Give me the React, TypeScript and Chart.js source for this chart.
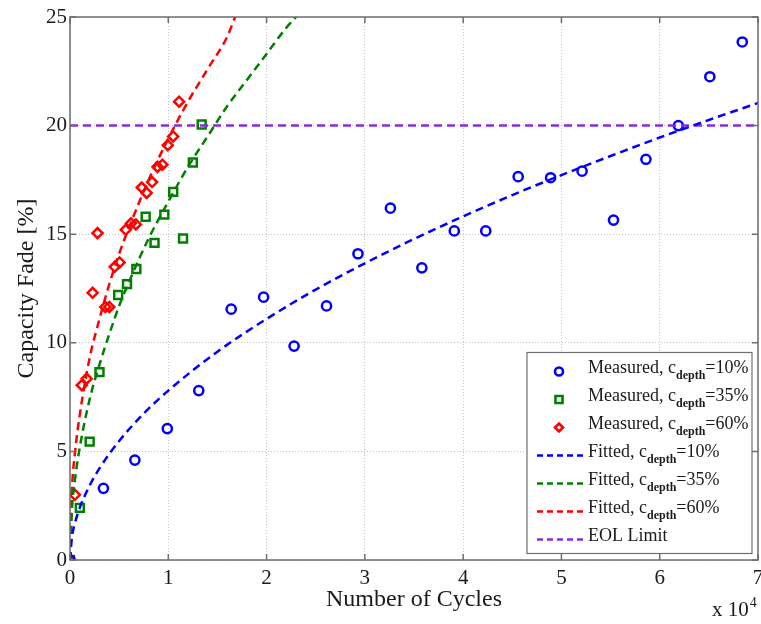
import React, { useEffect, useRef } from 'react';
import { Chart, registerables } from 'chart.js';

Chart.register(...registerables);

// ---------- data (x in units of 10^4 cycles, y in % capacity fade) ----------
const X_TICKS = [0, 1, 2, 3, 4, 5, 6, 7];
const Y_TICKS = [0, 5, 10, 15, 20, 25];

const meas10X = [0, 0.34, 0.66, 0.99, 1.31, 1.64, 1.97, 2.28, 2.61, 2.93, 3.26, 3.58, 3.91, 4.23, 4.56, 4.89, 5.21, 5.53, 5.86, 6.19, 6.51, 6.84];
const meas10Y = [0, 3.3, 4.6, 6.05, 7.8, 11.55, 12.1, 9.85, 11.7, 14.1, 16.2, 13.45, 15.15, 15.15, 17.65, 17.6, 17.9, 15.65, 18.45, 20.0, 22.25, 23.85];

const meas35X = [0, 0.1, 0.2, 0.3, 0.49, 0.58, 0.675, 0.77, 0.86, 0.96, 1.05, 1.15, 1.25, 1.34];
const meas35Y = [0, 2.4, 5.45, 8.65, 12.2, 12.7, 13.4, 15.8, 14.6, 15.9, 16.95, 14.8, 18.3, 20.05];

const meas60X = [0, 0.05, 0.12, 0.17, 0.23, 0.28, 0.36, 0.4, 0.455, 0.505, 0.567, 0.62, 0.67, 0.73, 0.78, 0.835, 0.89, 0.94, 0.995, 1.05, 1.11];
const meas60Y = [0, 3.0, 8.05, 8.35, 12.3, 15.05, 11.65, 11.65, 13.5, 13.7, 15.2, 15.5, 15.45, 17.15, 16.9, 17.4, 18.1, 18.2, 19.1, 19.5, 21.1];

const fit10X = [0, 0.02, 0.05, 0.1, 0.2, 0.3, 0.5, 0.75, 1, 1.5, 2, 2.5, 3, 3.5, 4, 4.5, 5, 5.5, 6, 6.5, 7];
const fit10Y = [0, 1.06, 1.69, 2.41, 3.43, 4.22, 5.48, 6.74, 7.8, 9.59, 11.1, 12.45, 13.66, 14.78, 15.82, 16.8, 17.72, 18.6, 19.45, 20.26, 21.04];

const fit35X = [0, 0.02, 0.05, 0.1, 0.2, 0.3, 0.4, 0.5, 0.6, 0.8, 1.0, 1.2, 1.4, 1.6, 1.8, 2.0, 2.2, 2.3];
const fit35Y = [0, 2.33, 3.69, 5.2, 7.4, 9.0, 10.4, 11.7, 12.8, 14.8, 16.5, 18.1, 19.5, 20.9, 22.1, 23.3, 24.5, 25.0];

const fit60X = [0, 0.02, 0.05, 0.1, 0.2, 0.3, 0.4, 0.5, 0.6, 0.8, 1.0, 1.2, 1.4, 1.6, 1.68];
const fit60Y = [0, 3.2, 4.9, 6.7, 9.3, 11.1, 12.7, 14.1, 15.3, 17.5, 19.4, 21.1, 22.6, 24.1, 25.0];

const eolX = [0, 7];
const eolY = [20, 20];

const LEGEND_LABELS = [
  'Measured, c_depth=10%',
  'Measured, c_depth=35%',
  'Measured, c_depth=60%',
  'Fitted, c_depth=10%',
  'Fitted, c_depth=35%',
  'Fitted, c_depth=60%',
  'EOL Limit',
];

const X_TITLE = 'Number of Cycles';
const Y_TITLE = 'Capacity Fade [%]';
const X_EXP_BASE = 'x 10';
const X_EXP = '4';

// ---------- styles ----------
const FONT = "'Liberation Serif', 'Times New Roman', serif";
const BLUE = '#0000ff';
const GREEN = '#008000';
const RED = '#ff0000';
const PURPLE = '#8a2be2';
const TEXT = '#1a1a1a';
const AXIS = '#6e6e6e';
const DASH = [8, 5];

const pts = (xs: number[], ys: number[]) => xs.map((x, i) => ({ x, y: ys[i] }));

function drawMarker(ctx: CanvasRenderingContext2D, style: string, x: number, y: number, r: number) {
  ctx.beginPath();
  if (style === 'circle') {
    ctx.arc(x, y, r, 0, Math.PI * 2);
  } else if (style === 'rect') {
    const s = r * Math.SQRT1_2;
    ctx.rect(x - s, y - s, 2 * s, 2 * s);
  } else {
    ctx.moveTo(x, y - r);
    ctx.lineTo(x + r, y);
    ctx.lineTo(x, y + r);
    ctx.lineTo(x - r, y);
    ctx.closePath();
  }
  ctx.stroke();
}

const boxPlugin = {
  id: 'matlabBox',
  afterDatasetsDraw(chart: any) {
    const { ctx, chartArea: a, scales } = chart;
    const xs = scales.x;
    const ys = scales.y;
    ctx.save();
    // axes box
    ctx.strokeStyle = AXIS;
    ctx.lineWidth = 1.5;
    ctx.setLineDash([]);
    ctx.strokeRect(a.left, a.top, a.right - a.left, a.bottom - a.top);
    // inner tick marks
    const tl = 6;
    ctx.beginPath();
    X_TICKS.forEach((v) => {
      const p = xs.getPixelForValue(v);
      ctx.moveTo(p, a.bottom);
      ctx.lineTo(p, a.bottom - tl);
      ctx.moveTo(p, a.top);
      ctx.lineTo(p, a.top + tl);
    });
    Y_TICKS.forEach((v) => {
      const p = ys.getPixelForValue(v);
      ctx.moveTo(a.left, p);
      ctx.lineTo(a.left + tl, p);
      ctx.moveTo(a.right, p);
      ctx.lineTo(a.right - tl, p);
    });
    ctx.stroke();

    // exponent label "x 10^4"
    ctx.fillStyle = TEXT;
    ctx.textBaseline = 'alphabetic';
    ctx.textAlign = 'left';
    ctx.font = `21px ${FONT}`;
    const ex = a.right - 46;
    const ey = chart.height - 8;
    ctx.fillText(X_EXP_BASE, ex, ey);
    const w = ctx.measureText(X_EXP_BASE).width;
    ctx.font = `14px ${FONT}`;
    ctx.fillText(X_EXP, ex + w + 1, ey - 9);

    // legend
    const lx = a.left + 457;
    const ly = 352.5;
    const lw = 225;
    const lh = 201;
    ctx.fillStyle = '#ffffff';
    ctx.fillRect(lx, ly, lw, lh);
    ctx.strokeStyle = '#707070';
    ctx.lineWidth = 1.2;
    ctx.strokeRect(lx, ly, lw, lh);

    const ds = chart.data.datasets;
    LEGEND_LABELS.forEach((label, i) => {
      const d = ds[i];
      const cy = ly + 19 + i * 28;
      ctx.save();
      if (d.showLine) {
        ctx.strokeStyle = d.borderColor;
        ctx.lineWidth = 2.5;
        ctx.setLineDash([6, 4]);
        ctx.beginPath();
        ctx.moveTo(lx + 10, cy);
        ctx.lineTo(lx + 56, cy);
        ctx.stroke();
      } else {
        ctx.strokeStyle = d.borderColor;
        ctx.lineWidth = 2.6;
        ctx.setLineDash([]);
        drawMarker(ctx, d.pointStyle, lx + 32, cy, d.pointStyle === 'rect' ? 5 : 4);
      }
      ctx.restore();
      ctx.fillStyle = TEXT;
      let tx = lx + 61;
      const base = cy + 1.5;
      const parts = label.split('_depth');
      ctx.font = `18px ${FONT}`;
      ctx.fillText(parts[0], tx, base);
      tx += ctx.measureText(parts[0]).width;
      if (parts.length > 1) {
        ctx.font = `bold 12px ${FONT}`;
        ctx.fillText('depth', tx, base + 6);
        tx += ctx.measureText('depth').width;
        ctx.font = `18px ${FONT}`;
        ctx.fillText(parts[1], tx, base);
      }
    });
    ctx.restore();
  },
};

export default function App() {
  const ref = useRef<HTMLCanvasElement>(null);

  useEffect(() => {
    if (!ref.current) return;
    const measured = (data: any, color: string, style: string, r: number) => ({
      data,
      showLine: false,
      pointStyle: style,
      pointRadius: r,
      pointBorderWidth: 2.5,
      borderColor: color,
      backgroundColor: 'rgba(0,0,0,0)',
      pointBackgroundColor: 'rgba(0,0,0,0)',
      order: 2,
    });
    const fitted = (data: any, color: string) => ({
      data,
      showLine: true,
      pointRadius: 0,
      borderColor: color,
      borderWidth: 2.5,
      borderDash: DASH,
      cubicInterpolationMode: 'monotone',
      backgroundColor: color,
      order: 1,
    });

    const chart = new Chart(ref.current, {
      type: 'scatter',
      data: {
        datasets: [
          measured(pts(meas10X, meas10Y), BLUE, 'circle', 4.6),
          measured(pts(meas35X, meas35Y), GREEN, 'rect', 5.6),
          measured(pts(meas60X, meas60Y), RED, 'rectRot', 5),
          fitted(pts(fit10X, fit10Y), BLUE),
          fitted(pts(fit35X, fit35Y), GREEN),
          fitted(pts(fit60X, fit60Y), RED),
          fitted(pts(eolX, eolY), PURPLE),
        ] as any,
      },
      options: {
        responsive: false,
        animation: false,
        events: [],
        layout: { autoPadding: false, padding: { top: 17, right: 3, left: 0, bottom: 0 } },
        plugins: {
          legend: { display: false },
          tooltip: { enabled: false },
        },
        scales: {
          x: {
            type: 'linear',
            min: 0,
            max: 7,
            afterBuildTicks: (s: any) => {
              s.ticks = X_TICKS.map((v) => ({ value: v }));
            },
            afterFit: (s: any) => {
              s.height = 64;
              s.paddingLeft = 0;
              s.paddingRight = 0;
            },
            grid: {
              color: '#c4c4c4',
              lineWidth: 1,
              drawTicks: false,
            },
            border: { display: false, dash: [1, 2] },
            ticks: {
              padding: 6,
              color: TEXT,
              font: { family: FONT, size: 21 },
              maxRotation: 0,
              autoSkip: false,
              callback: (v: any) => String(v),
            },
            title: {
              display: true,
              text: X_TITLE,
              color: TEXT,
              font: { family: FONT, size: 24 },
              padding: { top: 0, bottom: 10 },
            },
          },
          y: {
            type: 'linear',
            min: 0,
            max: 25,
            afterBuildTicks: (s: any) => {
              s.ticks = Y_TICKS.map((v) => ({ value: v }));
            },
            afterFit: (s: any) => {
              s.width = 70;
              s.paddingTop = 0;
              s.paddingBottom = 0;
            },
            grid: {
              color: '#c4c4c4',
              lineWidth: 1,
              drawTicks: false,
            },
            border: { display: false, dash: [1, 2] },
            ticks: {
              padding: 3,
              color: TEXT,
              font: { family: FONT, size: 21 },
              autoSkip: false,
              callback: (v: any) => String(v),
            },
            title: {
              display: true,
              text: Y_TITLE,
              color: TEXT,
              font: { family: FONT, size: 24 },
              padding: { top: 12, bottom: 0 },
            },
          },
        },
      } as any,
      plugins: [boxPlugin as any],
    });
    return () => chart.destroy();
  }, []);

  return (
    <div style={{ position: 'absolute', left: 0, top: 0, width: 761, height: 624, background: '#ffffff' }}>
      <canvas ref={ref} width={761} height={624} style={{ display: 'block' }} />
    </div>
  );
}
